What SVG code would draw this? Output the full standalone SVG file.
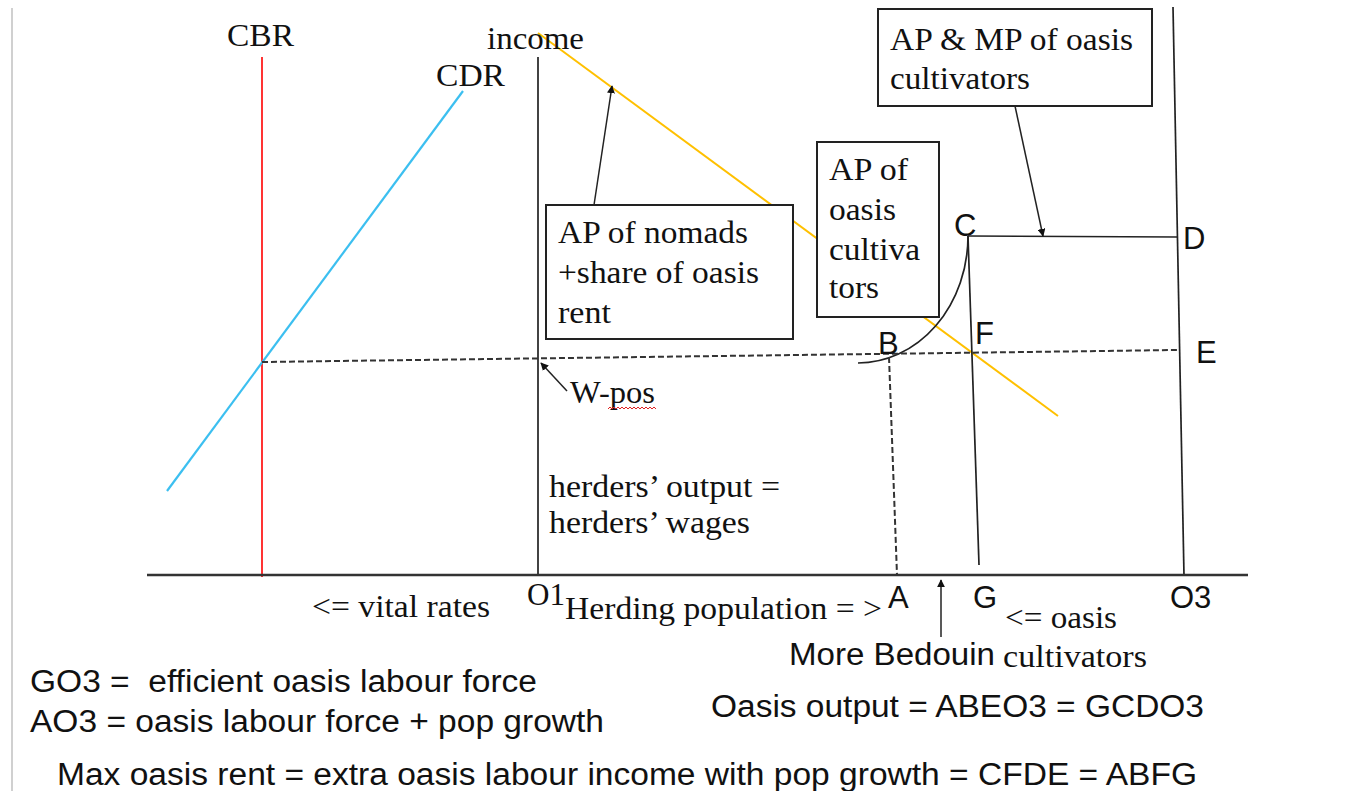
<svg xmlns="http://www.w3.org/2000/svg" width="1357" height="791" viewBox="0 0 1357 791">
<style>
.serif{font-family:"Liberation Serif","Times New Roman",serif;font-size:32px;fill:#111}
.sans{font-family:"Liberation Sans",Arial,sans-serif;font-size:31px;fill:#111}
.box{fill:#fff;stroke:#222;stroke-width:2}
.ln{fill:none;stroke:#222;stroke-width:1.7}
.dash{fill:none;stroke:#333;stroke-width:2;stroke-dasharray:6 3}
.arr{fill:none;stroke:#222;stroke-width:1.5;marker-end:url(#ah)}
</style>
<defs>
<marker id="ah" viewBox="0 0 10 10" refX="9" refY="5" markerWidth="8" markerHeight="8" markerUnits="userSpaceOnUse" orient="auto">
<path d="M0,0 L10,5 L0,10 z" fill="#111"/>
</marker>
</defs>
<rect width="1357" height="791" fill="#fff"/>
<line x1="12" y1="8" x2="12" y2="791" stroke="#d0d0d0" stroke-width="2"/>

<g id="curves">
<line x1="262" y1="57" x2="262" y2="577" stroke="#ff0000" stroke-width="1.6"/>
<line x1="463" y1="91" x2="167" y2="491" stroke="#3cbff0" stroke-width="2.2"/>
<line x1="538" y1="33" x2="1058" y2="416" stroke="#ffc000" stroke-width="2"/>
<line x1="538" y1="57" x2="538" y2="576" class="ln"/>
<line x1="1173" y1="7" x2="1184" y2="576" class="ln"/>
<line x1="147" y1="575" x2="1248" y2="575" stroke="#333" stroke-width="2.5"/>
<path d="M858,363 A110,127 0 0 0 968,236" class="ln"/>
<line x1="968" y1="236" x2="1177" y2="237" class="ln"/>
<line x1="968" y1="236" x2="979" y2="565" class="ln"/>
<line x1="262" y1="362" x2="1177" y2="350" class="dash"/>
<line x1="889" y1="357" x2="897" y2="575" class="dash"/>
</g>

<g id="connectors">
<line x1="594" y1="205" x2="612" y2="86" class="arr"/>
<line x1="1015" y1="106" x2="1043" y2="236" class="arr"/>
<line x1="567" y1="391" x2="541" y2="363" class="arr"/>
<line x1="941" y1="637" x2="941" y2="580" class="arr"/>
</g>

<g id="axis-labels">
<text class="serif" x="227" y="46" textLength="67" lengthAdjust="spacingAndGlyphs">CBR</text>
<text class="serif" x="487" y="49" textLength="97" lengthAdjust="spacingAndGlyphs">income</text>
<text class="serif" x="436" y="86" textLength="69" lengthAdjust="spacingAndGlyphs">CDR</text>
<text class="serif" x="312" y="617" textLength="178" lengthAdjust="spacingAndGlyphs">&lt;= vital rates</text>
<text class="serif" x="527" y="605" textLength="38" lengthAdjust="spacingAndGlyphs">O1</text>
<text class="serif" x="565" y="619" textLength="317" lengthAdjust="spacingAndGlyphs">Herding population = &gt;</text>
<text class="serif" x="1005" y="628" textLength="112" lengthAdjust="spacingAndGlyphs">&lt;= oasis</text>
<text class="serif" x="1003" y="667" textLength="144" lengthAdjust="spacingAndGlyphs">cultivators</text>
</g>

<g id="point-labels">
<text class="sans" x="954" y="236">C</text>
<text class="sans" x="1183" y="249">D</text>
<text class="sans" x="878" y="354">B</text>
<text class="sans" x="975" y="344">F</text>
<text class="sans" x="1196" y="363">E</text>
<text class="sans" x="888" y="608">A</text>
<text class="sans" x="973" y="608">G</text>
<text class="sans" x="1170" y="608">O3</text>
</g>

<g id="node-ap-nomads">
<rect class="box" x="546" y="205" width="247" height="134"/>
<text class="serif" x="558" y="243" textLength="190" lengthAdjust="spacingAndGlyphs">AP of nomads</text>
<text class="serif" x="558" y="283" textLength="201" lengthAdjust="spacingAndGlyphs">+share of oasis</text>
<text class="serif" x="558" y="323" textLength="53" lengthAdjust="spacingAndGlyphs">rent</text>
</g>

<g id="node-ap-oasis">
<rect class="box" x="817" y="142" width="122" height="175"/>
<text class="serif" x="829" y="180" textLength="79" lengthAdjust="spacingAndGlyphs">AP of</text>
<text class="serif" x="829" y="220" textLength="67" lengthAdjust="spacingAndGlyphs">oasis</text>
<text class="serif" x="829" y="260" textLength="91" lengthAdjust="spacingAndGlyphs">cultiva</text>
<text class="serif" x="829" y="298" textLength="50" lengthAdjust="spacingAndGlyphs">tors</text>
</g>

<g id="node-ap-mp">
<rect class="box" x="878" y="9" width="274" height="97"/>
<text class="serif" x="890" y="50" textLength="243" lengthAdjust="spacingAndGlyphs">AP &amp; MP of oasis</text>
<text class="serif" x="890" y="89" textLength="140" lengthAdjust="spacingAndGlyphs">cultivators</text>
</g>

<g id="node-wpos">
<text class="serif" x="570" y="403" textLength="85" lengthAdjust="spacingAndGlyphs">W-pos</text>
<path d="M608,409 l2,-2 l2,2 l2,-2 l2,2 l2,-2 l2,2 l2,-2 l2,2 l2,-2 l2,2 l2,-2 l2,2 l2,-2 l2,2 l2,-2 l2,2 l2,-2 l2,2 l2,-2 l2,2 l2,-2 l2,2 l2,-2 l2,2" fill="none" stroke="#e02020" stroke-width="1"/>
</g>

<g id="node-herders">
<text class="serif" x="549" y="497" textLength="231" lengthAdjust="spacingAndGlyphs">herders’ output =</text>
<text class="serif" x="549" y="533" textLength="201" lengthAdjust="spacingAndGlyphs">herders’ wages</text>
</g>

<g id="notes">
<text class="sans" x="789" y="665" textLength="206" lengthAdjust="spacingAndGlyphs">More Bedouin</text>
<text class="sans" x="30" y="692" textLength="507" lengthAdjust="spacingAndGlyphs" xml:space="preserve">GO3 =  efficient oasis labour force</text>
<text class="sans" x="30" y="732" textLength="574" lengthAdjust="spacingAndGlyphs">AO3 = oasis labour force + pop growth</text>
<text class="sans" x="711" y="717" textLength="493" lengthAdjust="spacingAndGlyphs">Oasis output = ABEO3 = GCDO3</text>
<text class="sans" x="57" y="785" textLength="1140" lengthAdjust="spacingAndGlyphs">Max oasis rent = extra oasis labour income with pop growth = CFDE = ABFG</text>
</g>
</svg>
